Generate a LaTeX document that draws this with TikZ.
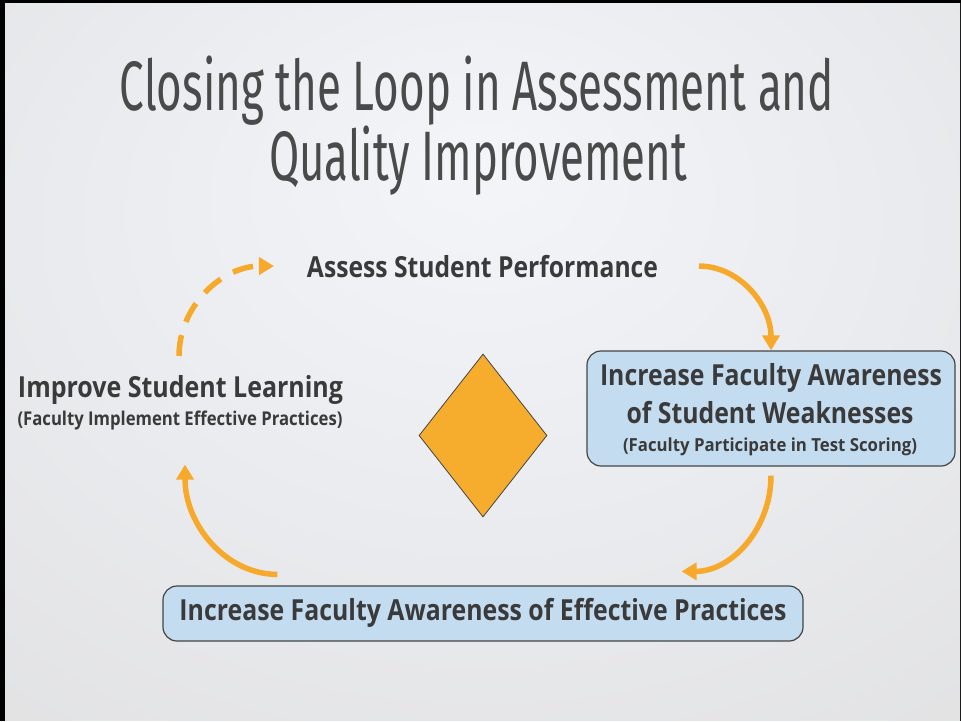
\documentclass[tikz,border=0pt]{standalone}
\usepackage{fontspec}
\setmainfont{Open Sans}
\newfontfamily\titlefont{Fira Sans}
\usetikzlibrary{arrows.meta,shapes.geometric}

\definecolor{ink}{HTML}{3A3A3A}
\definecolor{titleink}{HTML}{4A4A4A}
\definecolor{loop}{HTML}{F6A92A}
\definecolor{gem}{HTML}{F6AD2E}
\definecolor{boxfill}{HTML}{C4DCF0}
\definecolor{boxline}{HTML}{454545}
\definecolor{bgc}{HTML}{F3F5F9}
\definecolor{bgm}{HTML}{EAEBEE}
\definecolor{bgo}{HTML}{DEDEDE}
\definecolor{bgx}{HTML}{D7D7D7}

% soft light spot slightly above the middle of the slide
\pgfdeclareradialshading{slidebg}{\pgfpoint{0bp}{14bp}}{%
  color(0bp)=(bgc); color(22bp)=(bgm); color(50bp)=(bgo); color(72bp)=(bgx)}

% squeeze a line of text to a given width, keeping its height
\newcommand\fitto[2]{\resizebox{#1pt}{\height}{#2}}

\begin{document}
\begin{tikzpicture}[x=1pt,y=-1pt,
  lbl/.style={inner sep=0pt,outer sep=0pt,text=ink,font=\bfseries},
  panel/.style={draw=boxline,line width=1.2pt,fill=boxfill,rounded corners=14pt,inner sep=0pt},
  loopar/.style={draw=loop,line width=5.5pt,-{Triangle[length=15pt,width=17pt]}},
  dashloop/.style={loopar,dash pattern=on 21pt off 14pt}
]
\useasboundingbox (0,0) rectangle (961,721);

% slide frame and background
\fill[black] (0,0) rectangle (961,721);
\shade[shading=slidebg] (5,3) rectangle (960,720);

% title
\node[anchor=base,inner sep=0pt,text=titleink] (title1) at (477,110)
  {\titlefont\fontsize{70}{70}\selectfont\fitto{714}{Closing the Loop in Assessment and}};
\node[anchor=base,inner sep=0pt,text=titleink] (title2) at (478,180)
  {\titlefont\fontsize{70}{70}\selectfont\fitto{418}{Quality Improvement}};

% stages of the loop
\node[lbl,anchor=base] (assess) at (482.5,277)
  {\fontsize{29}{29}\selectfont\fitto{351}{Assess Student Performance}};

\node[panel,minimum width=368pt,minimum height=115pt] (weak) at (771,408.5) {};
\node[lbl,anchor=base] (weak1) at (771,385)
  {\fontsize{29}{29}\selectfont\fitto{342}{Increase Faculty Awareness}};
\node[lbl,anchor=base] (weak2) at (770,423)
  {\fontsize{29}{29}\selectfont\fitto{287}{of Student Weaknesses}};
\node[lbl,anchor=base] (weak3) at (770,451)
  {\fontsize{18}{18}\selectfont\fitto{294}{(Faculty Participate in Test Scoring)}};

\node[panel,minimum width=640pt,minimum height=55pt] (eff) at (483,613.5) {};
\node[lbl,anchor=base] (eff1) at (483,620)
  {\fontsize{29}{29}\selectfont\fitto{607}{Increase Faculty Awareness of Effective Practices}};

\node[lbl,anchor=base west] (improve) at (18,397)
  {\fontsize{29}{29}\selectfont\fitto{325}{Improve Student Learning}};
\node[lbl,anchor=base west] (improvesub) at (17.5,425)
  {\fontsize{19}{19}\selectfont\fitto{325}{(Faculty Implement Effective Practices)}};

% centre diamond
\node[diamond,draw=boxline,line width=0.8pt,fill=gem,minimum width=128pt,
  minimum height=163pt,inner sep=0pt] (gem) at (483,435.5) {};

% loop arrows
\draw[dashloop] ([shift={(-1.5pt,19pt)}]improve.north)
  .. controls +(0,-50) and +(-52,0) .. ([xshift=-33pt]assess.west);
\draw[loopar] ([xshift=41pt]assess.east)
  .. controls +(40,0) and +(0,-46) .. (weak.north);
\draw[loopar] ([yshift=-9pt]weak.south)
  .. controls +(0,53) and +(50,0) .. ([shift={(-122pt,14pt)}]eff.north east);
\draw[loopar] ([shift={(115pt,11pt)}]eff.north west)
  .. controls +(-51,0) and +(0,61) .. ([shift={(5pt,-35pt)}]improvesub.south);
\end{tikzpicture}
\end{document}
